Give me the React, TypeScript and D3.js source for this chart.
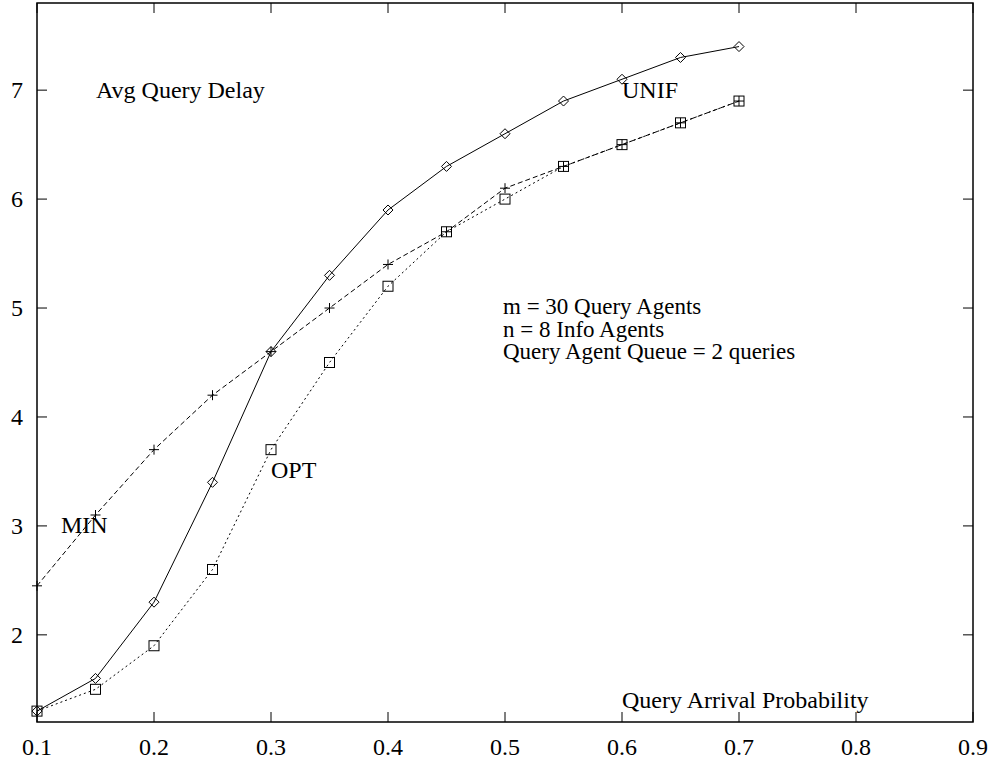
import React from "react";
import * as d3 from "d3";

// query arrival probability
const probs = [0.1, 0.15, 0.2, 0.25, 0.3, 0.35, 0.4, 0.45, 0.5, 0.55, 0.6, 0.65, 0.7];
const unifDelay = [1.3, 1.6, 2.3, 3.4, 4.6, 5.3, 5.9, 6.3, 6.6, 6.9, 7.1, 7.3, 7.4];
const minDelay = [2.45, 3.1, 3.7, 4.2, 4.6, 5.0, 5.4, 5.7, 6.1, 6.3, 6.5, 6.7, 6.9];
const optDelay = [1.3, 1.5, 1.9, 2.6, 3.7, 4.5, 5.2, 5.7, 6.0, 6.3, 6.5, 6.7, 6.9];
const xTicks = [0.1, 0.2, 0.3, 0.4, 0.5, 0.6, 0.7, 0.8, 0.9];
const yTicks = [2, 3, 4, 5, 6, 7];
const infoLines = ["m = 30 Query Agents", "n = 8 Info Agents", "Query Agent Queue = 2 queries"];

const font = "'Liberation Serif', 'DejaVu Serif', serif";

export default function App() {
  const width = 990;
  const height = 762;
  const margins = { left: 37, right: 17, top: 3, bottom: 40 };
  const x = d3.scaleLinear().domain([0.1, 0.9]).range([margins.left, width - margins.right]);
  const y = d3.scaleLinear().domain([1.2, 7.8]).range([height - margins.bottom, margins.top]);
  const x0 = margins.left, x1 = width - margins.right;
  const y0 = height - margins.bottom, y1 = margins.top;

  const line = (vals: number[]) =>
    d3.line<number>().x((_, i) => x(probs[i])).y((d) => y(d))(vals) || "";

  const tick = 10;

  return (
    <svg width={width} height={height} style={{ position: "absolute", left: 0, top: 0, background: "#fff" }}
      fontFamily={font} fontSize={24}>
      <rect x={x0} y={y1} width={x1 - x0} height={y0 - y1} fill="none" stroke="#000" strokeWidth={1.5} />
      {xTicks.map((t) => (
        <g key={"x" + t}>
          <line x1={x(t)} x2={x(t)} y1={y0} y2={y0 - tick} stroke="#000" />
          <line x1={x(t)} x2={x(t)} y1={y1} y2={y1 + tick} stroke="#000" />
          <text x={x(t)} y={y0 + 33} textAnchor="middle">{t.toFixed(1)}</text>
        </g>
      ))}
      {yTicks.map((t) => (
        <g key={"y" + t}>
          <line x1={x0} x2={x0 + tick} y1={y(t)} y2={y(t)} stroke="#000" />
          <line x1={x1} x2={x1 - tick} y1={y(t)} y2={y(t)} stroke="#000" />
          <text x={x0 - 14} y={y(t) + 8} textAnchor="end">{t}</text>
        </g>
      ))}

      <path d={line(unifDelay)} fill="none" stroke="#000" strokeWidth={1} />
      <path d={line(minDelay)} fill="none" stroke="#000" strokeWidth={1} strokeDasharray="5,3" />
      <path d={line(optDelay)} fill="none" stroke="#000" strokeWidth={1} strokeDasharray="2,3" />

      {unifDelay.map((d, i) => {
        const cx = x(probs[i]), cy = y(d);
        return <path key={"u" + i} d={`M${cx - 5},${cy}L${cx},${cy - 5}L${cx + 5},${cy}L${cx},${cy + 5}Z`}
          fill="none" stroke="#000" />;
      })}
      {minDelay.map((d, i) => {
        const cx = x(probs[i]), cy = y(d);
        return <path key={"m" + i} d={`M${cx - 5},${cy}H${cx + 5}M${cx},${cy - 5}V${cy + 5}`} stroke="#000" />;
      })}
      {optDelay.map((d, i) => {
        const cx = x(probs[i]), cy = y(d);
        return <rect key={"o" + i} x={cx - 5} y={cy - 5} width={10} height={10} fill="none" stroke="#000" />;
      })}

      <text x={96} y={98}>Avg Query Delay</text>
      <text x={622} y={98}>UNIF</text>
      <text x={61} y={533}>MIN</text>
      <text x={271} y={478}>OPT</text>
      {infoLines.map((s, i) => (
        <text key={s} x={503} y={314 + i * 22.5} fontSize={23}>{s}</text>
      ))}
      <text x={622} y={708}>Query Arrival Probability</text>
    </svg>
  );
}
